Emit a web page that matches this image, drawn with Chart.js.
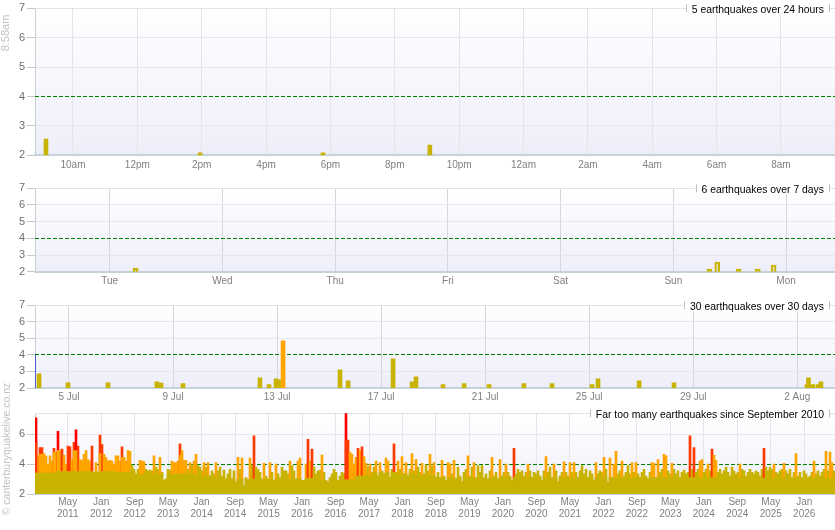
<!DOCTYPE html>
<html><head><meta charset="utf-8">
<script src="https://cdn.jsdelivr.net/npm/chart.js@4.4.1/dist/chart.umd.min.js"></script>
<style>
html,body{margin:0;padding:0;background:#fff;width:835px;height:530px;overflow:hidden}
.p{position:absolute;left:0;width:835px}
.rot{position:absolute;transform:translate(-50%,-50%) rotate(-90deg);white-space:nowrap;color:#c0c0c8;font-family:"Liberation Sans",Arial,sans-serif}
</style></head><body>
<div class="p" style="top:0;height:178px"><canvas id="c1"></canvas></div>
<div class="p" style="top:178px;height:117px"><canvas id="c2"></canvas></div>
<div class="p" style="top:295px;height:113px"><canvas id="c3"></canvas></div>
<div class="p" style="top:408px;height:122px"><canvas id="c4"></canvas></div>
<div class="rot" style="left:5px;top:33px;font-size:11px">8:58am</div>
<div class="rot" style="left:6px;top:449px;font-size:10.5px">© canterburyquakelive.co.nz</div>
<script>
// ---------- Panel 1: last 24 hours (x = hours since midnight of previous day)
const hours24 = [9.16, 13.95, 17.77, 21.09];
const mags24  = [2.55, 2.08, 2.08, 2.35];
const tickHours24 = [10,12,14,16,18,20,22,24,26,28,30,32];
const labels24 = ['10am','12pm','2pm','4pm','6pm','8pm','10pm','12am','2am','4am','6am','8am'];

// ---------- Panel 2: last 7 days (x = days since Tue 00:00)
const days7 = [0.23, 5.32, 5.39, 5.58, 5.75, 5.89];
const mags7 = [2.2, 2.16, 2.58, 2.16, 2.16, 2.4];
const tickDays7 = [0,1,2,3,4,5,6];
const labels7 = ['Tue','Wed','Thu','Fri','Sat','Sun','Mon'];

// ---------- Panel 3: last 30 days (x = days since 5 Jul)
const days30 = [-1.15,-0.04,1.50,3.38,3.54,4.38,7.34,7.69,7.96,8.09,8.23,10.42,10.73,12.46,13.19,13.34,14.38,15.19,16.15,17.49,18.57,20.11,20.34,21.92,23.26,28.37,28.43,28.60,28.80,28.91];
const mags30 = [2.86,2.32,2.32,2.38,2.3,2.26,2.62,2.2,2.56,2.5,4.85,3.1,2.44,3.76,2.38,2.68,2.2,2.26,2.2,2.26,2.26,2.2,2.56,2.44,2.32,2.2,2.62,2.2,2.2,2.38];
const edgeMarker30 = [2, 4];
const tickDays30 = [0,4,8,12,16,20,24,28];
const labels30 = ['5 Jul','9 Jul','13 Jul','17 Jul','21 Jul','25 Jul','29 Jul','2 Aug'];

// ---------- Panel 4: since September 2010 (x = months since 1 Sep 2010), max magnitude per ~fortnight bin
const peaks2010_2014 = [7.1,4.55,5.1,5.1,4.7,4.55,4.0,4.55,4.2,5.05,
 4.8,6.2,4.9,5.0,4.6,4.0,5.2,5.15,4.3,5.45,
 6.3,5.2,4.3,4.25,4.65,4.9,4.3,4.2,5.2,3.45,
 4.1,3.45,5.95,5.3,4.65,4.45,4.2,4.25,4.2,4.0,
 4.55,4.55,4.2,5.15,4.45,4.2,4.9,4.85,3.9,3.65,
 3.35,3.65,4.25,4.2,4.15,3.65,3.55,3.6,3.55,4.55,
 3.8,3.65,4.45,3.45,2.9,3.0,3.65,3.6,4.2,4.1,
 4.1,4.2,5.35,4.9,4.25,4.25,3.65,4.1,3.9,4.2,
 4.65,3.9,3.8,3.55,4.1,3.8,4.1,3.2,3.55,3.35,
 4.1,3.55,3.8,3.2,3.6,3.0,3.35,3.65,3.0,3.55];
const peaks2014_2018 = [2.8,4.45,3.65,4.4,2.55,3.1,2.95,4.4,3.9,5.9,
 3.8,3.65,3.45,3.0,4.05,3.2,3.0,4.1,3.45,2.9,
 4.0,3.35,3.1,3.8,3.55,3.55,3.35,4.2,3.9,3.55,
 3.0,4.2,4.4,2.9,2.9,4.0,5.65,4.2,5.0,3.8,
 3.35,3.55,3.6,4.6,3.45,2.9,2.8,3.1,3.35,3.65,
 3.45,2.9,3.2,3.45,3.35,7.8,5.6,4.8,4.65,4.0,
 4.45,5.05,4.9,5.15,4.5,4.05,3.8,4.0,3.45,3.8,
 4.2,3.2,4.1,3.55,3.35,4.4,4.2,3.1,3.65,5.35,
 3.45,4.2,3.65,4.5,3.35,4.1,3.2,3.65,4.7,3.55,
 4.3,3.8,3.45,4.05,3.35,3.95,3.55,4.65,3.85,4.1];
const peaks2018_2022 = [3.1,3.45,3.1,4.25,3.2,2.9,4.1,4.0,3.35,4.25,
 3.0,3.8,3.2,2.8,3.45,3.65,4.55,3.2,3.8,4.1,
 3.1,3.9,3.45,3.9,3.1,3.35,3.0,3.55,4.45,3.2,
 3.45,3.0,4.3,3.2,3.45,4.0,3.45,3.2,2.9,5.05,
 3.35,3.65,3.45,3.55,3.2,3.45,4.0,3.55,3.1,3.45,
 3.35,3.55,3.2,2.9,3.55,4.5,3.45,3.8,3.1,4.0,
 3.55,2.8,3.2,3.45,4.15,3.45,3.2,4.1,3.45,4.1,
 3.45,3.1,3.55,3.9,3.35,3.65,3.1,3.55,3.35,2.9,
 4.1,3.35,3.55,3.45,4.45,3.65,2.8,4.4,3.1,4.0,
 4.85,3.35,3.55,4.2,3.2,3.45,3.9,3.35,4.1,3.45];
const peaks2022_2026 = [4.1,3.35,3.1,3.45,3.65,3.2,3.0,3.45,4.1,4.05,
 3.1,4.3,3.45,3.65,4.65,4.55,3.55,3.35,4.05,3.65,
 3.35,3.55,3.1,3.45,3.6,3.35,3.45,5.9,3.65,5.1,
 3.45,3.65,4.2,4.3,3.45,3.65,4.0,3.55,5.0,4.6,
 4.25,3.45,3.65,3.35,3.55,3.8,3.45,3.2,3.8,3.55,
 3.35,3.45,4.0,3.65,3.55,3.2,3.45,3.65,3.45,3.35,
 3.55,3.45,3.2,3.65,5.05,3.8,3.55,3.8,3.65,4.0,
 3.45,3.35,3.55,3.65,4.05,3.55,3.35,3.65,3.1,3.45,
 4.7,3.2,3.45,3.1,3.55,3.35,3.1,3.2,3.45,4.2,
 3.35,3.55,3.2,3.45,3.65,4.85,3.55,4.8,4.1,3.55];
// second-largest quake in the early red bins (orange underlay)
const underlayBins = [0, 2, 3, 9, 11, 19, 20, 32, 43, 72, 155];
const underlayMags = [5.45, 4.65, 4.65, 4.8, 4.9, 4.9, 4.9, 4.7, 4.45, 4.6, 5.6];
// typical background (olive) level, one value per 10 bins
const baseLevels = [3.4,3.5,3.5,3.5,3.45,3.3,3.3,3.35,3.2,3.1,
 3.0,3.0,3.0,3.05,2.95,2.95,3.2,3.45,3.35,3.25,
 3.1,3.1,3.05,3.1,3.1,3.1,3.05,3.1,3.1,3.05,
 3.1,3.1,3.1,3.1,3.05,3.1,3.05,3.05,3.05,3.05];
const startMonth = 0.19;     // ~4 Sep 2010
const binMonths = 0.4779;    // ~14.5 days per bin
const tickMonths = [8,16,24,32,40,48,56,64,72,80,88,96,104,112,120,128,136,144,152,160,168,176,184];
const labelsAll = ['May 2011','Jan 2012','Sep 2012','May 2013','Jan 2014','Sep 2014','May 2015','Jan 2016','Sep 2016','May 2017','Jan 2018','Sep 2018','May 2019','Jan 2020','Sep 2020','May 2021','Jan 2022','Sep 2022','May 2023','Jan 2024','Sep 2024','May 2025','Jan 2026'];

const titles = ['5 earthquakes over 24 hours','6 earthquakes over 7 days','30 earthquakes over 30 days','Far too many earthquakes since September 2010'];

const FONT = '"Liberation Sans", Arial, sans-serif';
const OLIVE = '#c8b400';
function colorFor(v){ return v>=6 ? '#ff0000' : v>=5 ? '#ff3a00' : v>=4 ? '#ffa500' : OLIVE; }

const deco = {
  id:'deco',
  beforeDraw(chart){
    const {ctx, chartArea:a} = chart;
    const g = ctx.createLinearGradient(0,a.top,0,a.bottom);
    g.addColorStop(0,'#ffffff'); g.addColorStop(1,'#eeeefa');
    ctx.save(); ctx.fillStyle=g; ctx.fillRect(a.left,a.top,a.right-a.left,a.bottom-a.top); ctx.restore();
  },
  beforeDatasetsDraw(chart){
    const {ctx, chartArea:a, scales:{y}} = chart;
    ctx.save();
    ctx.strokeStyle='#e2e2ea'; ctx.lineWidth=1;
    const ty = Math.round(a.top-0.5)+0.5;
    ctx.beginPath(); ctx.moveTo(a.left, ty); ctx.lineTo(a.right, ty); ctx.stroke();
    const py = Math.round(y.getPixelForValue(4)-0.5)+0.5;
    ctx.strokeStyle='#008000'; ctx.setLineDash([4,2]);
    ctx.beginPath(); ctx.moveTo(a.left,py); ctx.lineTo(a.right,py); ctx.stroke();
    ctx.restore();
  },
  afterDraw(chart, args, opts){
    const {ctx, chartArea:a} = chart;
    const t = opts.title; if(!t) return;
    ctx.save();
    ctx.font = '10.4px ' + FONT;
    const w = ctx.measureText(t).width;
    const right = 824, left = right - w;
    const top = a.top;
    ctx.fillStyle='#ffffff'; ctx.fillRect(left-6, top-5, w+11, 11);
    ctx.strokeStyle='#c0c0c0'; ctx.lineWidth=1;
    ctx.beginPath();
    ctx.moveTo(Math.round(left-6)+0.5, top-4); ctx.lineTo(Math.round(left-6)+0.5, top+4);
    ctx.moveTo(Math.round(right+5)+0.5, top-4); ctx.lineTo(Math.round(right+5)+0.5, top+4);
    ctx.stroke();
    ctx.fillStyle='#000'; ctx.textAlign='right'; ctx.textBaseline='middle';
    ctx.fillText(t, right, top+1.5);
    ctx.restore();
  }
};

function makeOptions(c){
  return {
    responsive:true, maintainAspectRatio:false, animation:false,
    layout:{padding:{top:c.padTop,left:0,right:0,bottom:0}},
    plugins:{legend:{display:false}, tooltip:{enabled:false}, deco:{title:c.title}},
    scales:{
      x:{type:'linear', min:c.xmin, max:c.xmax, offset:false,
        afterFit:s=>{ s.height=c.xh; s.paddingLeft=0; s.paddingRight=0; },
        afterBuildTicks:s=>{ s.ticks = c.xticks.map(v=>({value:v})); },
        grid:{color:c.vgrid, offset:false, drawTicks:false},
        border:{color:'#c5d2da', width:2},
        ticks:{callback:(v,i)=>c.xlabel(i), color:'#808080', autoSkip:false, maxRotation:0,
               font:{size:10, family:FONT, lineHeight:c.lh||1.2}, padding:c.xpad}
      },
      y:{min:2, max:c.ymax,
        afterBuildTicks:s=>{ s.ticks=[2,3,4,5,6,7].map(v=>({value:v})); },
        afterFit:s=>{ s.width=35; s.paddingTop=0; s.paddingBottom=0; },
        grid:{color:ctx=>(ctx.tick && ctx.tick.value===4) ? 'rgba(0,0,0,0)' : '#e6e6ee', tickColor:'#c8c8c8', tickLength:8},
        border:{color:'#c5d2d2', width:1},
        ticks:{color:'#707070', font:{size:11, family:FONT}, padding:2}
      }
    }
  };
}

// Panel 1
new Chart(document.getElementById('c1'), {
  type:'bar',
  data:{datasets:[{data:hours24.map((h,i)=>({x:h,y:mags24[i]})), backgroundColor:mags24.map(colorFor), barThickness:4, grouped:false}]},
  options:makeOptions({padTop:8.3, xh:22.7, xmin:8.82, xmax:33.68, xticks:tickHours24, xlabel:i=>labels24[i], xpad:4.2, vgrid:'#e4e4ec', ymax:7, title:titles[0]}),
  plugins:[deco]
});

// Panel 2
new Chart(document.getElementById('c2'), {
  type:'bar',
  data:{datasets:[{data:days7.map((d,i)=>({x:d,y:mags7[i]})), backgroundColor:'rgba(200,180,0,0.18)', borderColor:OLIVE, borderWidth:1.5, barThickness:5, grouped:false}]},
  options:makeOptions({padTop:10.3, xh:23.3, xmin:-0.6627, xmax:6.4345, xticks:tickDays7, xlabel:i=>labels7[i], xpad:3.3, vgrid:'#d6d6de', ymax:7, title:titles[1]}),
  plugins:[deco]
});

// Panel 3
const xmin30 = -1.307;
new Chart(document.getElementById('c3'), {
  type:'bar',
  data:{datasets:[
    {type:'line', data:edgeMarker30.map(v=>({x:xmin30,y:v})), borderColor:'#2030d0', borderWidth:1.5, pointRadius:0},
    {data:days30.map((d,i)=>({x:d,y:mags30[i]})), backgroundColor:mags30.map(colorFor), barThickness:4, grouped:false}
  ]},
  options:makeOptions({padTop:10.3, xh:20, xmin:xmin30, xmax:29.45, xticks:tickDays30, xlabel:i=>labels30[i], xpad:3.7, vgrid:'#d6d6de', ymax:7, title:titles[2]}),
  plugins:[deco]
});

// Panel 4
const peaks = peaks2010_2014.concat(peaks2014_2018, peaks2018_2022, peaks2022_2026);
const binX = i => startMonth + (i + 0.5) * binMonths;
new Chart(document.getElementById('c4'), {
  type:'bar',
  data:{datasets:[
    {data:peaks.map((v,i)=>({x:binX(i), y:Math.min(v, baseLevels[Math.floor(i/10)])})), backgroundColor:OLIVE, barThickness:2, grouped:false, order:0},
    {data:underlayBins.map((b,k)=>({x:binX(b), y:underlayMags[k]})), backgroundColor:underlayMags.map(colorFor), barThickness:2, grouped:false, order:1},
    {data:peaks.map((v,i)=>({x:binX(i), y:v})), backgroundColor:peaks.map(colorFor), barThickness:2, grouped:false, order:2}
  ]},
  options:makeOptions({padTop:5.3, xh:36, xmin:startMonth, xmax:startMonth+peaks.length*binMonths, xticks:tickMonths, xlabel:i=>labelsAll[i].split(' '), xpad:3.05, lh:1.13, vgrid:'#e4e4ec', ymax:7.4, title:titles[3]}),
  plugins:[deco]
});
</script>
</body></html>
